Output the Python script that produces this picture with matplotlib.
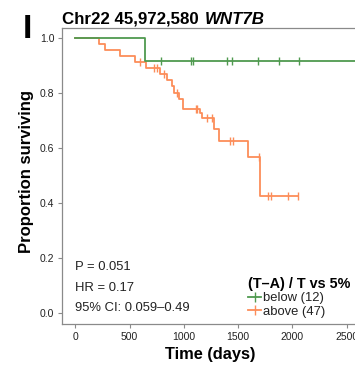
import numpy as np
import matplotlib
matplotlib.use('Agg')
import matplotlib.pyplot as plt
from matplotlib.lines import Line2D

plt.rcParams['font.family'] = ['Liberation Sans', 'DejaVu Sans']

# 两组的 KM 曲线
# below 5% (n=12)
below_t = [0, 640, 2650]
below_s = [1.0, 0.917, 0.917]
below_cens = [794, 1067, 1083, 1396, 1442, 1687, 1880, 2061]

# above 5% (n=47)
above_t = [0, 215, 276, 414, 552, 653, 776, 849, 889, 914, 951, 988,
           1150, 1165, 1282, 1328, 1595, 1702, 2049]
above_s = [1.0, 0.979, 0.957, 0.936, 0.915, 0.894, 0.872, 0.850, 0.826, 0.802,
           0.779, 0.745, 0.727, 0.709, 0.670, 0.628, 0.570, 0.428, 0.428]
above_cens = [598, 721, 751, 813, 936, 1113, 1125, 1211, 1257, 1426, 1456,
              1696, 1779, 1800, 1963, 2049]

labels = ['below (12)', 'above (47)']
stats = ['P = 0.051', 'HR = 0.17', '95% CI: 0.059\u20130.49']

green = '#4f9a4f'
orange = '#fc8d59'
grey = '#8a8a8a'


def surv_at(times, surv, t):
    i = np.searchsorted(times, t, side='right') - 1
    return np.array(surv)[i]


fig = plt.figure(figsize=(3.55, 3.66), dpi=100)
ax = fig.add_axes([62 / 355, 42 / 366, (358 - 62) / 355, (324 - 27.7) / 366])

ax.step(above_t, above_s, where='post', color=orange, lw=1.3, zorder=2)
ax.plot(above_cens, surv_at(above_t, above_s, above_cens), ls='none',
        marker='|', ms=6, mew=1.0, color=orange, zorder=2)
ax.step(below_t, below_s, where='post', color=green, lw=1.3, zorder=3)
ax.plot(below_cens, surv_at(below_t, below_s, below_cens), ls='none',
        marker='|', ms=6, mew=1.0, color=green, zorder=3)

ax.set_xlim(-122, 2604)
ax.set_ylim(-0.039, 1.039)
ax.set_xticks([0, 500, 1000, 1500, 2000, 2500])
ax.set_yticks([0.0, 0.2, 0.4, 0.6, 0.8, 1.0])
ax.set_yticklabels(['%.1f' % v for v in ax.get_yticks()])
ax.tick_params(length=3, width=0.8, color=grey, labelsize=7.5,
               labelcolor='#222222', pad=2.5)
for sp in ax.spines.values():
    sp.set_color(grey)
    sp.set_linewidth(0.9)

for k, s in enumerate(stats):
    ax.text(0, 0.168 - k * 0.0745, s, fontsize=9.4, color='#222222',
            ha='left', va='center')

handles = [Line2D([], [], color=green, lw=1.3, marker='|', ms=7, mew=1.0),
           Line2D([], [], color=orange, lw=1.3, marker='|', ms=7, mew=1.0)]
leg = fig.legend(handles, labels, loc='upper left',
                 bbox_to_anchor=(248 / 355, 1 - 277 / 366),
                 frameon=False, fontsize=9.4, title='(T\u2013A) / T vs 5%',
                 title_fontproperties={'weight': 'bold', 'size': 10.4},
                 handlelength=1.0, handletextpad=0.15, labelspacing=0.1,
                 borderpad=0, borderaxespad=0)
leg._legend_box.align = 'left'
for t in leg.get_texts():
    t.set_color('#222222')

# 标题：粗体 + 粗斜体
fig.canvas.draw()
t1 = fig.text(61.7 / 355, 1 - 24 / 366, 'Chr22 45,972,580', fontsize=12.2,
              fontweight='bold', va='baseline', ha='left')
fig.canvas.draw()
bb = t1.get_window_extent()
fig.text((bb.x1 + 6) / 355, 1 - 24 / 366, 'WNT7B', fontsize=12.2,
         fontweight='bold', fontstyle='italic', va='baseline', ha='left')

fig.text(22.5 / 355, 1 - 38 / 366, 'I', fontsize=24.5, fontweight='bold',
         va='baseline', ha='left')
fig.text(27 / 355, 1 - 171.5 / 366, 'Proportion surviving', fontsize=12,
         fontweight='bold', rotation=90, ha='center', va='center')
fig.text(210 / 355, 1 - 355 / 366, 'Time (days)', fontsize=11.8,
         fontweight='bold', ha='center', va='center')

fig.savefig('out.png', dpi=100)
